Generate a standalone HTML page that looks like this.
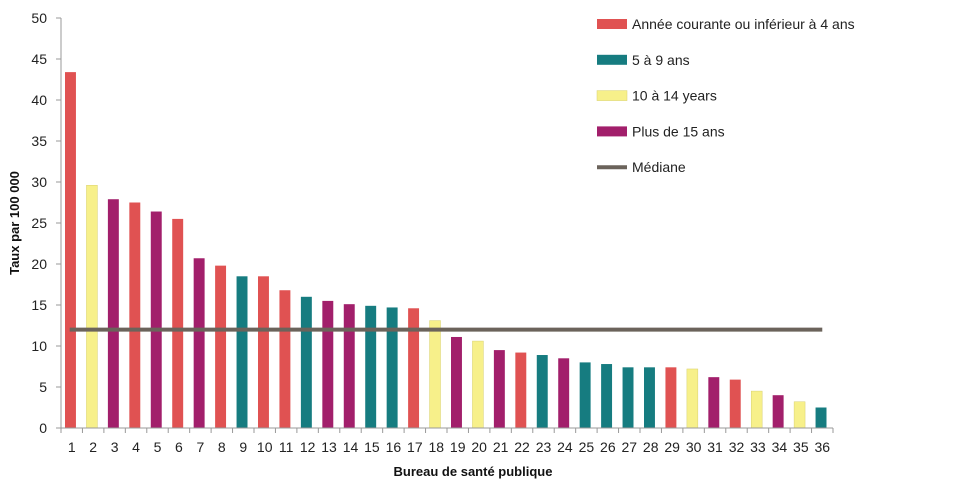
<!DOCTYPE html>
<html><head><meta charset="utf-8"><style>
body{margin:0;background:#fff;font-family:"Liberation Sans",sans-serif}
svg text{font-family:"Liberation Sans",sans-serif}
</style></head><body>
<svg id="c" width="980" height="494" xmlns="http://www.w3.org/2000/svg"></svg>
<script>
const categories=[1,2,3,4,5,6,7,8,9,10,11,12,13,14,15,16,17,18,19,20,21,22,23,24,25,26,27,28,29,30,31,32,33,34,35,36];
const values=[43.4,29.6,27.9,27.5,26.4,25.5,20.7,19.8,18.5,18.5,16.8,16.0,15.5,15.1,14.9,14.7,14.6,13.1,11.1,10.6,9.5,9.2,8.9,8.5,8.0,7.8,7.4,7.4,7.4,7.2,6.2,5.9,4.5,4.0,3.2,2.5];
const groups=[0,2,3,0,3,0,3,0,1,0,0,1,3,3,1,1,0,2,3,2,3,0,1,3,1,1,1,1,0,2,3,0,2,3,2,1];
const groupLabels=["Année courante ou inférieur à 4 ans","5 à 9 ans","10 à 14 years","Plus de 15 ans"];
const median=12;
const yTicks=[0,5,10,15,20,25,30,35,40,45,50];
const colors=["#e05252","#167c80","#f7f08a","#a21f6b"];
const NS="http://www.w3.org/2000/svg",svg=document.getElementById('c');
const x0=61,x1=833,y0=428,y1=18,ymax=50;
const slot=(x1-x0)/categories.length;
const X=i=>x0+slot*i, Y=v=>y0-(v/ymax)*(y0-y1);
function mk(t,a,p){const e=document.createElementNS(NS,t);for(const k in a)e.setAttribute(k,a[k]);(p||svg).appendChild(e);return e;}
yTicks.forEach(t=>{
 const l=mk('line',{x1:x0-5,x2:x0,y1:Y(t),y2:Y(t),stroke:'#999'});
 
 
 const tx=mk('text',{x:x0-14,y:Y(t)+5,'text-anchor':'end','font-size':14,fill:'#222'});tx.textContent=t;
 
 
});
categories.forEach((c,i)=>{
 const v=values[i];
 const b=mk('rect',{x:X(i)+4,y:Y(v),width:slot-10.5,height:y0-Y(v),fill:colors[groups[i]]});
 if(groups[i]==2){b.setAttribute('stroke','#d8d070');b.setAttribute('stroke-width','0.5');}
 
 
 const tk=mk('line',{x1:X(i),x2:X(i),y1:y0,y2:y0+5,stroke:'#999'});
 
 
 const tx=mk('text',{x:X(i)+slot/2,y:y0+24,'text-anchor':'middle','font-size':14,fill:'#222'});tx.textContent=c;
 
 
});
const lt=mk('line',{x1:X(categories.length),x2:X(categories.length),y1:y0,y2:y0+5,stroke:'#999'});


const ml=mk('line',{x1:X(0)+slot/2-2,x2:X(categories.length-1)+slot/2,y1:Y(median),y2:Y(median),stroke:'#6b635b','stroke-width':4});


const ya=mk('line',{x1:x0,x2:x0,y1:y1,y2:y0,stroke:'#999'});


const xa=mk('line',{x1:x0,x2:x1,y1:y0,y2:y0,stroke:'#999'});


const xt=mk('text',{x:473,y:476,'text-anchor':'middle','font-size':13,'font-weight':'bold',fill:'#111'});xt.textContent='Bureau de santé publique';


const yt=mk('text',{x:0,y:0,'text-anchor':'middle','font-size':13,'font-weight':'bold',fill:'#111',transform:'translate(19,223) rotate(-90)'});yt.textContent='Taux par 100 000';


const lg=[...groupLabels,'Médiane'];
lg.forEach((t,i)=>{
 const y=24+i*35.8;
 const g=mk('g',{});
 
 
 if(i<4){const r=mk('rect',{x:597,y:y-5,width:30,height:10,fill:colors[i]},g);if(i==2){r.setAttribute('stroke','#d8d070');r.setAttribute('stroke-width','0.5');}}
 else mk('line',{x1:597,x2:627,y1:y,y2:y,stroke:'#6b635b','stroke-width':4},g);
 const tx=mk('text',{x:632,y:y+5,'font-size':14,fill:'#222'},g);tx.textContent=t;
});
</script>
</body></html>
